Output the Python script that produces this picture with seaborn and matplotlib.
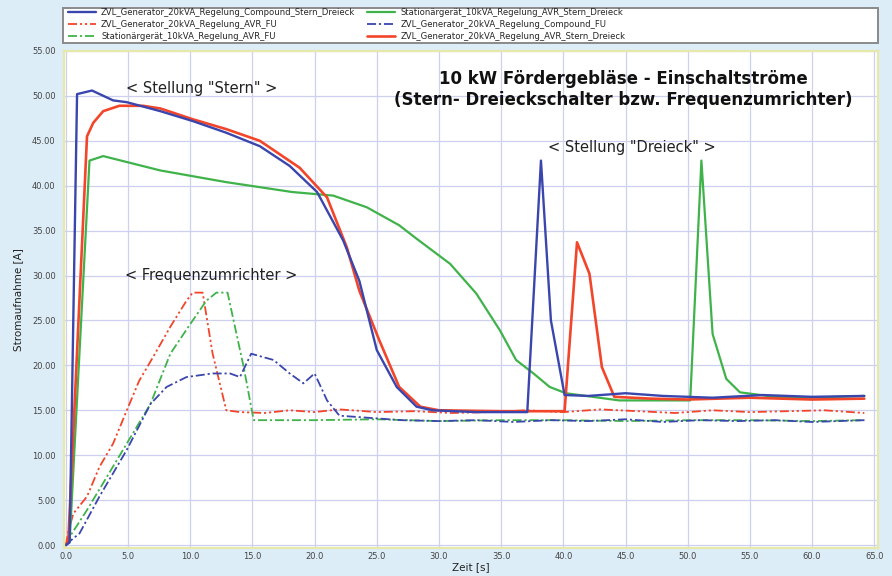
import matplotlib
matplotlib.use("Agg")
import matplotlib.pyplot as plt
from matplotlib.patches import Rectangle
from matplotlib.ticker import MultipleLocator, FormatStrFormatter
import seaborn as sns
import pandas as pd

# ---------------- data ----------------
t_blue_sd = [0, 0.3, 0.9, 2.1, 3.8, 4.9, 7.6, 10.2, 12.9, 15.6, 18.0, 20.2, 22.3, 23.6, 25.0, 26.6,
             28.2, 29.5, 33.0, 37.1, 38.2, 39.0, 40.1, 42.0, 45.0, 48.0, 52.0, 56.0, 60.0, 64.2]
a_blue_sd = [0, 0.3, 50.2, 50.6, 49.5, 49.3, 48.3, 47.2, 45.9, 44.4, 42.2, 39.3, 33.9, 29.4, 21.7, 17.6,
             15.4, 15.0, 14.8, 14.8, 42.8, 25.0, 16.7, 16.6, 16.9, 16.6, 16.4, 16.7, 16.5, 16.6]

t_red_sd = [0, 0.2, 1.7, 2.2, 3.0, 4.3, 6.2, 7.6, 10.2, 12.9, 15.6, 18.8, 21.0, 22.6, 23.6, 25.2,
            26.8, 28.5, 30.0, 35.0, 40.1, 41.1, 42.1, 43.1, 44.1, 47.0, 50.0, 55.0, 60.0, 64.2]
a_red_sd = [0, 0.5, 45.5, 47.0, 48.3, 48.9, 48.9, 48.6, 47.4, 46.3, 45.0, 42.0, 38.7, 33.1, 28.3, 22.8,
            17.6, 15.4, 15.0, 14.9, 14.9, 33.7, 30.2, 19.8, 16.5, 16.3, 16.2, 16.4, 16.2, 16.3]

t_green_sd = [0, 0.3, 1.9, 3.0, 7.6, 12.9, 18.2, 21.5, 24.2, 26.8, 28.2, 30.9, 33.0, 34.9, 36.2,
              37.6, 38.9, 40.2, 44.5, 50.2, 51.1, 52.0, 53.1, 54.2, 57.0, 60.0, 64.2]
a_green_sd = [0, 0.3, 42.8, 43.3, 41.7, 40.4, 39.3, 38.9, 37.6, 35.6, 34.1, 31.3, 28.0, 23.9, 20.6,
              19.1, 17.6, 16.9, 16.1, 16.1, 42.8, 23.5, 18.5, 17.0, 16.5, 16.4, 16.6]

t_red_fu = [0, 0.2, 0.6, 1.7, 2.7, 3.8, 4.9, 5.9, 7.0, 8.4, 9.7, 10.2, 11.0, 11.8, 12.9, 14.0, 16.0,
            18.0, 20.0, 22.0, 25.0, 28.0, 31.0, 34.0, 37.0, 40.0, 43.0, 46.0, 49.0, 52.0, 55.0, 58.0,
            61.0, 64.2]
a_red_fu = [0, 1.5, 3.5, 5.4, 8.7, 11.3, 15.0, 18.3, 20.9, 24.3, 27.2, 28.1, 28.1, 21.3, 15.0, 14.8,
            14.7, 15.0, 14.8, 15.1, 14.8, 14.9, 14.7, 14.8, 15.0, 14.8, 15.1, 14.9, 14.7, 15.0, 14.8,
            14.9, 15.0, 14.7]

t_green_fu = [0, 0.3, 1.7, 3.0, 4.9, 6.8, 8.4, 10.0, 11.3, 12.1, 13.0, 14.3, 15.1, 20.0, 25.0, 30.0,
              35.0, 40.0, 45.0, 50.0, 55.0, 60.0, 64.2]
a_green_fu = [0, 0.9, 3.9, 6.9, 11.3, 15.7, 21.3, 24.6, 27.2, 28.1, 28.1, 19.8, 13.9, 13.9, 14.0, 13.8,
              13.9, 13.9, 13.8, 13.9, 13.9, 13.8, 13.9]

t_blue_fu = [0, 0.3, 1.1, 2.7, 4.9, 6.8, 8.1, 9.7, 11.8, 13.2, 14.0, 14.9, 16.7, 18.0, 19.1, 20.0,
             21.0, 22.0, 24.0, 27.0, 30.0, 33.0, 36.0, 39.0, 42.0, 45.0, 48.0, 51.0, 54.0, 57.0,
             60.0, 64.2]
a_blue_fu = [0, 0.4, 1.3, 5.4, 10.6, 15.7, 17.6, 18.7, 19.1, 19.1, 18.7, 21.3, 20.6, 19.1, 18.0, 19.1,
             16.1, 14.4, 14.2, 13.9, 13.8, 13.9, 13.7, 13.9, 13.8, 14.0, 13.7, 13.9, 13.8, 13.9,
             13.7, 13.9]

series_names = [
    "ZVL_Generator_20kVA_Regelung_Compound_Stern_Dreieck",
    "ZVL_Generator_20kVA_Regelung_AVR_FU",
    "Stationärgerät_10kVA_Regelung_AVR_FU",
    "Stationärgerät_10kVA_Regelung_AVR_Stern_Dreieck",
    "ZVL_Generator_20kVA_Regelung_Compound_FU",
    "ZVL_Generator_20kVA_Regelung_AVR_Stern_Dreieck",
]

title_lines = ["10 kW Fördergebläse - Einschaltströme",
               "(Stern- Dreieckschalter bzw. Frequenzumrichter)"]
x_label = "Zeit [s]"
y_label = "Stromaufnahme [A]"

# ---------------- styling ----------------
BLUE = "#3a46ad"
RED = "#f2452a"
GREEN = "#3fb34a"
BG = "#dcedf7"

data = [
    (t_blue_sd, a_blue_sd, BLUE, "-", 1.7),
    (t_red_fu, a_red_fu, RED, (0, (5, 1.6, 1.2, 1.6, 1.2, 1.6)), 1.3),
    (t_green_fu, a_green_fu, GREEN, (0, (5, 1.6, 1.2, 1.6)), 1.3),
    (t_green_sd, a_green_sd, GREEN, "-", 1.6),
    (t_blue_fu, a_blue_fu, BLUE, (0, (5, 1.6, 1.2, 1.6)), 1.3),
    (t_red_sd, a_red_sd, RED, "-", 1.9),
]

sns.set_style("white")
plt.rcParams["font.family"] = ["DejaVu Sans"]

fig = plt.figure(figsize=(8.92, 5.76), dpi=100, facecolor=BG)
ax = fig.add_axes([64 / 892, 1 - 548 / 576, (878 - 64) / 892, (548 - 51) / 576])
ax.set_facecolor("white")

# draw order: FU curves below, solid curves on top
draw_order = [1, 2, 4, 3, 5, 0]
handles = {}
for i in draw_order:
    t, a, c, ls, lw = data[i]
    df = pd.DataFrame({"t": t, "a": a})
    sns.lineplot(data=df, x="t", y="a", ax=ax, color=c, linewidth=lw, ls=ls,
                 estimator=None, sort=False, label=series_names[i], legend=False)
    handles[i] = ax.lines[-1]

ax.set_xlim(-0.15, 65.3)
ax.set_ylim(-0.33, 55.0)
ax.xaxis.set_major_locator(MultipleLocator(5))
ax.yaxis.set_major_locator(MultipleLocator(5))
ax.xaxis.set_major_formatter(FormatStrFormatter("%.1f"))
ax.yaxis.set_major_formatter(FormatStrFormatter("%.2f"))
ax.grid(True, color="#cfd0ef", linewidth=0.9)
ax.set_axisbelow(True)
for s in ax.spines.values():
    s.set_color("#e6e9a8")
    s.set_linewidth(1.6)
ax.tick_params(axis="both", labelsize=6, colors="#444444", width=0.6, direction="out")
ax.tick_params(axis="x", length=1.5, pad=1.5)
ax.tick_params(axis="y", length=3, pad=3)
ax.set_xlabel(x_label, fontsize=7.5, color="#222222", labelpad=1)
ax.set_ylabel(y_label, fontsize=7.5, color="#222222", labelpad=6)

# annotations
ax.text(44.8, 51.9, title_lines[0], ha="center", va="center", fontsize=12,
        fontweight="bold", color="#111111")
ax.text(44.8, 49.6, title_lines[1], ha="center", va="center", fontsize=12,
        fontweight="bold", color="#111111")
ax.text(10.9, 50.8, '< Stellung "Stern" >', ha="center", va="center", fontsize=10.5,
        color="#222222")
ax.text(45.5, 44.3, '< Stellung "Dreieck" >', ha="center", va="center", fontsize=10.5,
        color="#222222")
ax.text(11.7, 30.0, "< Frequenzumrichter >", ha="center", va="center", fontsize=10.5,
        color="#222222")

# legend box
fig.patches.append(Rectangle((63 / 892, 1 - 43 / 576), 815 / 892, 35 / 576,
                             transform=fig.transFigure, facecolor="white",
                             edgecolor="#8a8a8a", linewidth=1.4, zorder=0))
fig.legend([handles[i] for i in range(6)], series_names, ncol=2,
           loc="upper left", bbox_to_anchor=(68 / 892, 1 - 8 / 576),
           frameon=False, fontsize=6.1, handlelength=3.3, labelspacing=0.36,
           columnspacing=1.4, handletextpad=0.6, borderpad=0.0, borderaxespad=0.0)

fig.savefig("out.png", dpi=100, facecolor=BG)
